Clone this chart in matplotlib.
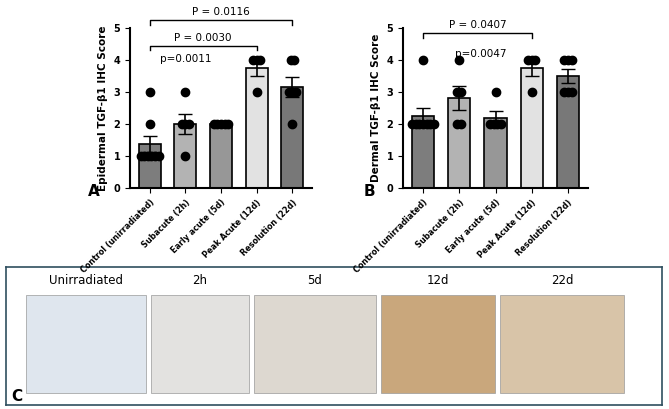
import numpy as np
import matplotlib.pyplot as plt
from matplotlib.patches import Rectangle

groups = ["Control (unirradiated)", "Subacute (2h)", "Early acute (5d)", "Peak Acute (12d)", "Resolution (22d)"]
bar_colors = ["#7d7d7d", "#b3b3b3", "#979797", "#e2e2e2", "#787878"]

epi = [[3, 2, 1, 1, 1, 1, 1, 1], [3, 2, 2, 2, 1], [2, 2, 2, 2, 2], [4, 4, 4, 3], [4, 4, 3, 3, 3, 2]]
derm = [[4, 2, 2, 2, 2, 2, 2, 2], [4, 3, 3, 2, 2], [3, 2, 2, 2, 2], [4, 4, 4, 3], [4, 4, 4, 3, 3, 3]]

panel_labels = ["Unirradiated", "2h", "5d", "12d", "22d"]
panel_tint = ["#dfe6ee", "#e3e2e0", "#ddd8d0", "#c9a77c", "#d8c4a8"]


def jitter_x(vals, i):
    xs = []
    for v in vals:
        n = sum(1 for u in vals if u == v)
        k = sum(1 for x in xs if x[1] == v)
        xs.append((i + (k - (n - 1) / 2) * 0.1, v))
    return xs


def draw(ax, data, ylabel):
    means = [np.mean(d) for d in data]
    sems = [np.std(d, ddof=1) / np.sqrt(len(d)) for d in data]
    x = np.arange(len(data))
    ax.bar(x, means, width=0.62, color=bar_colors, edgecolor="black", linewidth=1.2)
    ax.errorbar(x, means, yerr=sems, fmt="none", ecolor="black", capsize=5, lw=1.2)
    for i, d in enumerate(data):
        pts = jitter_x(d, i)
        ax.scatter([p[0] for p in pts], [p[1] for p in pts], s=36, color="black", zorder=3)
    ax.set_ylim(0, 5)
    ax.set_xlim(-0.55, 4.55)
    ax.set_yticks(range(6))
    ax.set_xticks(x)
    ax.set_xticklabels(groups, rotation=45, ha="right", rotation_mode="anchor", fontsize=5.8, fontweight="bold")
    ax.tick_params(axis="y", labelsize=7)
    for t in ax.get_yticklabels():
        t.set_fontweight("bold")
    ax.set_ylabel(ylabel, fontsize=7.5, fontweight="bold")
    ax.spines[["top", "right"]].set_visible(False)
    ax.spines[["left", "bottom"]].set_linewidth(1.5)


def bracket(ax, x1, x2, y, text):
    ax.plot([x1, x1, x2, x2], [y - 0.15, y, y, y - 0.15], color="black", lw=1, clip_on=False)
    ax.text((x1 + x2) / 2, y + 0.08, text, ha="center", va="bottom", fontsize=7.5, clip_on=False)


fig = plt.figure(figsize=(6.69, 4.09), dpi=100)

# bottom histology panel (placeholders)
box = fig.add_axes([6 / 669, 4 / 409, 656 / 669, 138 / 409])
box.set_xlim(0, 656)
box.set_ylim(0, 138)
box.set_xticks([])
box.set_yticks([])
for s in box.spines.values():
    s.set_color("#2f4f5f")
    s.set_linewidth(1.2)
lefts = [20, 145, 248, 375, 494]
widths = [120, 98, 122, 114, 124]
for l, w, lab, c in zip(lefts, widths, panel_labels, panel_tint):
    box.add_patch(Rectangle((l, 12), w, 98, facecolor=c, edgecolor="#999999", lw=0.5))
    box.text(l + w / 2, 118, lab, ha="center", va="bottom", fontsize=8.5)
box.text(5, 4, "C", fontsize=11, fontweight="bold")

axA = fig.add_axes([130 / 669, 1 - 188 / 409, 182 / 669, 160 / 409])
axB = fig.add_axes([403 / 669, 1 - 188 / 409, 185 / 669, 160 / 409])
draw(axA, epi, "Epidermal TGF-β1 IHC Score")
draw(axB, derm, "Dermal TGF-β1 IHC Score")
bracket(axA, 0, 4, 5.25, "P = 0.0116")
bracket(axA, 0, 3, 4.45, "P = 0.0030")
axA.text(1, 3.95, "p=0.0011", ha="center", fontsize=7.5)
bracket(axB, 0, 3, 4.85, "P = 0.0407")
axB.text(1.6, 4.1, "p=0.0047", ha="center", fontsize=7.5)
fig.text(88 / 669, 1 - 196 / 409, "A", fontsize=11, fontweight="bold")
fig.text(364 / 669, 1 - 196 / 409, "B", fontsize=11, fontweight="bold")

fig.savefig("out.png", dpi=100)
